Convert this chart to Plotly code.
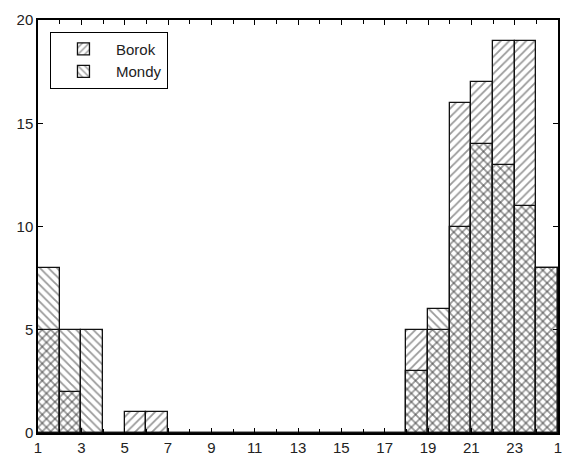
import plotly.graph_objects as go

hours = list(range(1, 25))  # bin start hour
borok = [5, 2, 0, 0, 1, 1, 0, 0, 0, 0, 0, 0, 0, 0, 0, 0, 0, 5, 5, 16, 17, 19, 19, 8]
mondy = [8, 5, 5, 0, 0, 0, 0, 0, 0, 0, 0, 0, 0, 0, 0, 0, 0, 3, 6, 10, 14, 13, 11, 8]
tick_vals = list(range(1, 26, 2))
tick_text = [str(v) for v in range(1, 24, 2)] + ["1"]

fig = go.Figure()
for name, vals, shape in [("Borok", borok, "/"), ("Mondy", mondy, "\\")]:
    fig.add_trace(go.Bar(
        x=[h + 0.5 for h in hours], y=vals, width=1, name=name,
        marker=dict(
            color="rgba(255,255,255,0)",
            line=dict(color="#111", width=1.3),
            pattern=dict(shape=shape, size=6, solidity=0.3,
                         fgcolor="#333", bgcolor="rgba(0,0,0,0)", fillmode="overlay"),
        ),
    ))

axis_common = dict(showline=True, linecolor="black", linewidth=1.5, mirror="ticks",
                   ticks="inside", ticklen=5, tickcolor="black", showgrid=False,
                   zeroline=False, tickfont=dict(family="Liberation Sans", size=15, color="#222"))

fig.update_layout(
    width=568, height=463,
    margin=dict(l=38, r=6, t=20, b=30),
    plot_bgcolor="white", paper_bgcolor="white",
    barmode="overlay", bargap=0,
    xaxis=dict(range=[1, 25], tickvals=tick_vals, ticktext=tick_text,
               minor=dict(dtick=1, ticks="inside", ticklen=4, tickcolor="black"),
               **axis_common),
    yaxis=dict(range=[0, 20], tickvals=[0, 5, 10, 15, 20], **axis_common),
    legend=dict(x=0.023, y=0.972, xanchor="left", yanchor="top",
                bordercolor="black", borderwidth=1, bgcolor="white",
                font=dict(family="Liberation Sans", size=15, color="#222"),
                itemwidth=55, entrywidth=140, tracegroupgap=0),
    showlegend=True,
)

fig.write_html("out.html")
